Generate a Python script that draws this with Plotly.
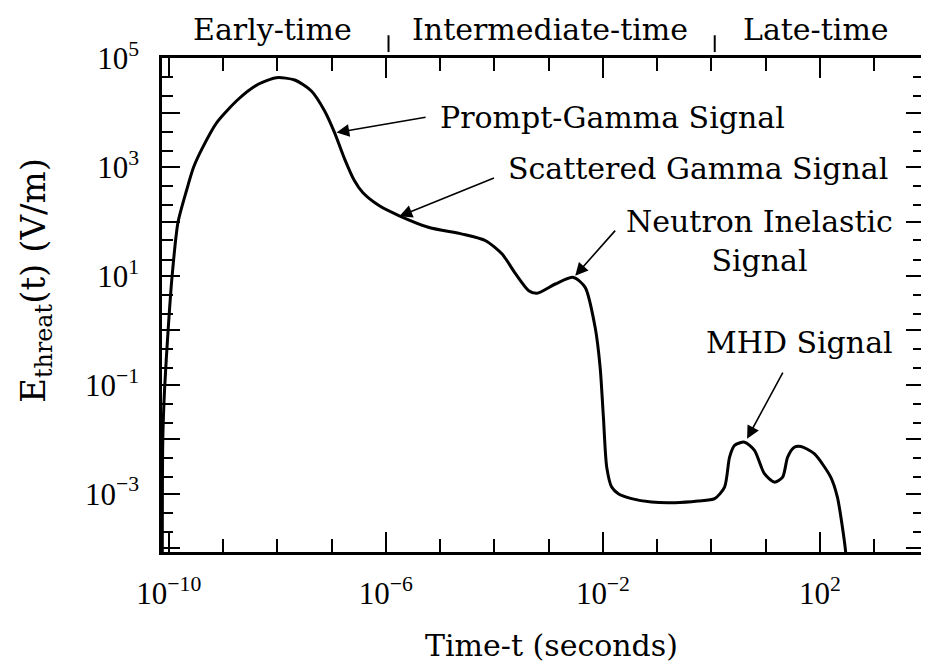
import plotly.graph_objects as go

# ---- data ----
time_s = [7.59e-11, 7.76e-11, 8.37e-11, 9.66e-11, 1.146e-10, 1.476e-10, 2.158e-10, 2.851e-10,
          4.064e-10, 7.656e-10, 1.910e-9, 4.446e-9, 9.66e-9, 2.094e-8, 4.246e-8, 7.447e-8,
          1.135e-7, 1.734e-7, 2.642e-7, 3.750e-7, 7.60e-7, 1.770e-6, 6.28e-6, 2.564e-5, 6.90e-5,
          1.390e-4, 2.449e-4, 4.295e-4, 6.095e-4, 1.327e-3, 2.877e-3, 4.71e-3, 7.19e-3,
          8.89e-3, 1.021e-2, 1.175e-2, 1.449e-2, 1.923e-2, 3.373e-2, 7.85e-2, 0.2113,
          0.565, 1.146, 1.746, 2.158, 2.667, 4.064, 6.21, 9.46, 14.45, 20.51, 25.35,
          33.65, 44.46, 78.3, 157.8, 209.4, 258.8, 297.2, 309.0]
e_threat = [3.98e-5, 1.023e-2, 8.43e-2, 0.920, 9.40, 95.9, 393.6, 979, 2133, 6561, 17620,
            33190, 43850, 39810, 25000, 10740, 4295, 1416, 558.5, 340.4, 194.1, 127.4, 77.6, 58.7,
            44.3, 25.2, 10.99, 5.36, 4.79, 7.11, 9.40, 6.17, 1.138, 0.2099, 2.541e-2,
            3.069e-3, 1.321e-3, 9.98e-4, 8.09e-4, 7.00e-4, 6.82e-4, 7.31e-4, 8.09e-4,
            1.321e-3, 4.69e-3, 7.69e-3, 8.83e-3, 6.22e-3, 2.323e-3, 1.629e-3, 2.014e-3,
            4.69e-3, 7.14e-3, 7.36e-3, 5.41e-3, 2.014e-3, 8.65e-4, 2.438e-4, 8.47e-5, 3.98e-5]

x_major_vals = [1e-10, 1e-6, 1e-2, 1e2]
x_major_text = ["10<sup>\u221210</sup>", "10<sup>\u22126</sup>", "10<sup>\u22122</sup>", "10<sup>2</sup>"]
x_minor_vals = [1e-9, 1e-8, 1e-7, 1e-5, 1e-4, 1e-3, 1e-1, 1e0, 1e1, 1e3]

y_decade_vals = [1e-4, 1e-3, 1e-2, 1e-1, 1e0, 1e1, 1e2, 1e3, 1e4, 1e5]
y_decade_text = ["", "10<sup>\u22123</sup>", "", "10<sup>\u22121</sup>", "", "10<sup>1</sup>", "",
                 "10<sup>3</sup>", "", "10<sup>5</sup>"]
y_minor_vals = [m * d for d in [1e-4, 1e-3, 1e-2, 1e-1, 1e0, 1e1, 1e2, 1e3, 1e4] for m in (2, 4.5)]

region_labels = ["Early-time", "Intermediate-time", "Late-time"]
region_centers_log = [-8.08, -2.98, 1.92]
region_separators_t = [1.12e-6, 1.15]

# annotations: text, text x (log10 t), text y (log10 E), anchor, arrow tail (log), arrow tip (log)
signal_labels = ["Prompt-Gamma Signal", "Scattered Gamma Signal", "Neutron Inelastic<br>Signal", "MHD Signal"]
signal_text_x = [-5.03, -3.79, 0.89, 1.615]
signal_text_y = [3.92, 2.98, 1.64, -0.22]
signal_text_anchor = ["left", "left", "center", "center"]
arrow_tail_x = [-5.24, -3.98, -1.75, 1.33]
arrow_tail_y = [3.92, 2.81, 1.86, -0.75]
arrow_tip_x = [-6.91, -5.75, -2.51, 0.657]
arrow_tip_y = [3.633, 2.096, 1.004, -1.99]

ANN_FONT = dict(family="DejaVu Serif", size=30, color="black")
TICK_FONT = dict(family="Liberation Serif", size=31, color="black")

fig = go.Figure()
fig.add_trace(go.Scatter(x=time_s, y=e_threat, mode="lines",
                         line=dict(color="black", width=3, shape="spline", smoothing=0.7),
                         showlegend=False, hoverinfo="skip"))

fig.update_layout(
    width=921, height=658,
    margin=dict(l=154, r=2, t=50, b=114),
    paper_bgcolor="white", plot_bgcolor="white",
    showlegend=False,
)
fig.update_xaxes(
    type="log", range=[-10.125, 3.917],
    tickvals=x_major_vals, ticktext=x_major_text,
    ticks="inside", ticklen=20, tickwidth=2, tickcolor="black",
    minor=dict(tickvals=x_minor_vals, ticks="inside", ticklen=13, tickwidth=2, tickcolor="black"),
    showline=True, linewidth=2.5, linecolor="black", mirror="ticks",
    showgrid=False, zeroline=False, tickfont=TICK_FONT, ticklabelstandoff=12,
)
fig.update_yaxes(
    type="log", range=[-4.072, 5.004],
    tickvals=y_decade_vals, ticktext=y_decade_text,
    ticks="inside", ticklen=18, tickwidth=2, tickcolor="black",
    minor=dict(tickvals=y_minor_vals, ticks="inside", ticklen=11, tickwidth=2, tickcolor="black"),
    showline=True, linewidth=2.5, linecolor="black", mirror="ticks",
    showgrid=False, zeroline=False, tickfont=TICK_FONT, ticklabelstandoff=14,
)

# region labels on top
for lab, cx in zip(region_labels, region_centers_log):
    fig.add_annotation(text=lab, x=cx, xref="x", y=1.057, yref="paper", showarrow=False,
                       xanchor="center", yanchor="middle", font=ANN_FONT)
for st in region_separators_t:
    fig.add_shape(type="line", xref="x", yref="paper", x0=st, x1=st, y0=1.012, y1=1.046,
                  line=dict(color="black", width=2))

# signal labels and arrows
for lab, tx, ty, anc in zip(signal_labels, signal_text_x, signal_text_y, signal_text_anchor):
    fig.add_annotation(text=lab, x=tx, y=ty, xref="x", yref="y", showarrow=False,
                       xanchor=anc, yanchor="middle", align="center", font=ANN_FONT)
for axx, ayy, hx, hy in zip(arrow_tail_x, arrow_tail_y, arrow_tip_x, arrow_tip_y):
    fig.add_annotation(text="", x=hx, y=hy, xref="x", yref="y", ax=axx, ay=ayy,
                       axref="x", ayref="y", showarrow=True, arrowhead=2, arrowsize=1.6,
                       arrowwidth=1.6, arrowcolor="black", standoff=0, startstandoff=0)

# axis titles
fig.add_annotation(text="Time-t (seconds)", x=0.680, xref="paper", y=-0.189, yref="paper",
                   showarrow=False, xanchor="right", yanchor="middle", font=ANN_FONT)
fig.add_annotation(text="E<sub>threat</sub>(t) (V/m)", x=-0.166, xref="paper", y=0.55, yref="paper",
                   showarrow=False, xanchor="center", yanchor="middle", textangle=-90,
                   font=dict(family="DejaVu Serif", size=34, color="black"))

fig.write_html("out.html")
